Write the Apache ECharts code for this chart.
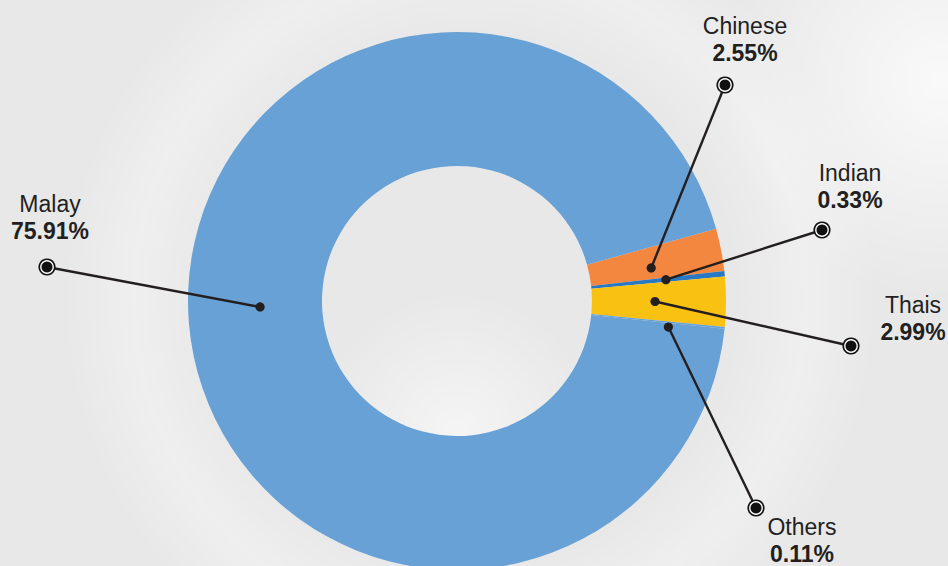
<!DOCTYPE html>
<html><head><meta charset="utf-8">
<script src="https://cdn.jsdelivr.net/npm/echarts@6/dist/echarts.min.js"></script>
<style>html,body{margin:0;padding:0;background:#e8e8e9}#c{width:948px;height:566px}</style>
</head><body><div id="c"></div>
<script>
// ---- data ----
const categories = ['Chinese', 'Indian', 'Thais', 'Others', 'Malay'];
const percentLabels = [2.55, 0.33, 2.99, 0.11, 75.91];      // printed values
const ringShares = [2.55, 0.33, 2.99, 0.11, 94.02];         // share of ring as drawn in picture
const colors = ['#f48740', '#2878c3', '#f9c213', '#68a1d5', '#68a1d5'];

// ---- layout (annotation placement) ----
const markerPos = [[725, 85], [822, 230], [851, 346], [756, 508], [47, 267]];
const nameCenter = [[745, 26], [850, 173], [913, 305], [802, 527], [50, 204]];
const dotPolar = [[-1.35, 197], [0, 210], [0, 198], [-1.3, 213], [-3.1, 197]]; // [angle offset deg, radius]

const chart = echarts.init(document.getElementById('c'), null, { renderer: 'svg' });

const bgGraphics = [
  { type: 'circle', z: -10, silent: true, shape: { cx: 470, cy: 300, r: 480 },
    style: { fill: new echarts.graphic.RadialGradient(0.5, 0.5, 0.5, [
      { offset: 0, color: 'rgba(255,255,255,0)' },
      { offset: 0.55, color: 'rgba(255,255,255,0)' },
      { offset: 0.7, color: 'rgba(255,255,255,0.3)' },
      { offset: 0.85, color: 'rgba(255,255,255,0)' },
      { offset: 1, color: 'rgba(255,255,255,0)' }
    ]) } },
  { type: 'circle', z: -10, silent: true, shape: { cx: 940, cy: 80, r: 220 },
    style: { fill: new echarts.graphic.RadialGradient(0.5, 0.5, 0.5, [
      { offset: 0, color: 'rgba(255,255,255,0.75)' },
      { offset: 1, color: 'rgba(255,255,255,0)' }
    ]) } },
  { type: 'circle', z: -10, silent: true, shape: { cx: 457, cy: 430, r: 140 },
    style: { fill: new echarts.graphic.RadialGradient(0.5, 0.5, 0.5, [
      { offset: 0, color: 'rgba(255,255,255,0.55)' },
      { offset: 1, color: 'rgba(255,255,255,0)' }
    ]) } }
];

chart.setOption({
  backgroundColor: '#e8e8e9',
  animation: false,
  graphic: bgGraphics,
  series: [{
    type: 'pie',
    center: [457, 301],
    radius: [135, 269],
    startAngle: 15.6,
    clockwise: true,
    silent: true,
    label: { show: false },
    labelLine: { show: false },
    itemStyle: { borderWidth: 0 },
    data: categories.map((n, i) => ({ name: n, value: ringShares[i], itemStyle: { color: colors[i] } }))
  }]
});

// annotation callouts placed from the library's pie layout
const data = chart.getModel().getSeriesByIndex(0).getData();
const ann = [];
categories.forEach((name, i) => {
  const L = data.getItemLayout(i);
  const mid = (L.startAngle + L.endAngle) / 2 - dotPolar[i][0] * Math.PI / 180;
  const dx = L.cx + dotPolar[i][1] * Math.cos(mid);
  const dy = L.cy + dotPolar[i][1] * Math.sin(mid);
  const [mx, my] = markerPos[i];
  ann.push({ type: 'line', z: 20, silent: true, shape: { x1: dx, y1: dy, x2: mx, y2: my },
    style: { stroke: '#231f20', lineWidth: 2.4 } });
  ann.push({ type: 'circle', z: 21, silent: true, shape: { cx: dx, cy: dy, r: 4.6 }, style: { fill: '#231f20' } });
  ann.push({ type: 'circle', z: 21, silent: true, shape: { cx: mx, cy: my, r: 8.6 }, style: { fill: '#111' } });
  ann.push({ type: 'circle', z: 22, silent: true, shape: { cx: mx, cy: my, r: 6.9 }, style: { fill: '#fff' } });
  ann.push({ type: 'circle', z: 23, silent: true, shape: { cx: mx, cy: my, r: 5.5 }, style: { fill: '#111' } });
  const [tx, ty] = nameCenter[i];
  ann.push({ type: 'text', z: 24, silent: true, x: tx, y: ty,
    style: { text: name, fill: '#231f20', font: '23px "Liberation Sans", Arial, sans-serif', align: 'center', verticalAlign: 'middle' } });
  ann.push({ type: 'text', z: 24, silent: true, x: tx, y: ty + 27,
    style: { text: percentLabels[i].toFixed(2) + '%', fill: '#231f20', font: 'bold 23px "Liberation Sans", Arial, sans-serif', align: 'center', verticalAlign: 'middle' } });
});
chart.setOption({ graphic: bgGraphics.concat(ann) });
</script>
</body></html>
